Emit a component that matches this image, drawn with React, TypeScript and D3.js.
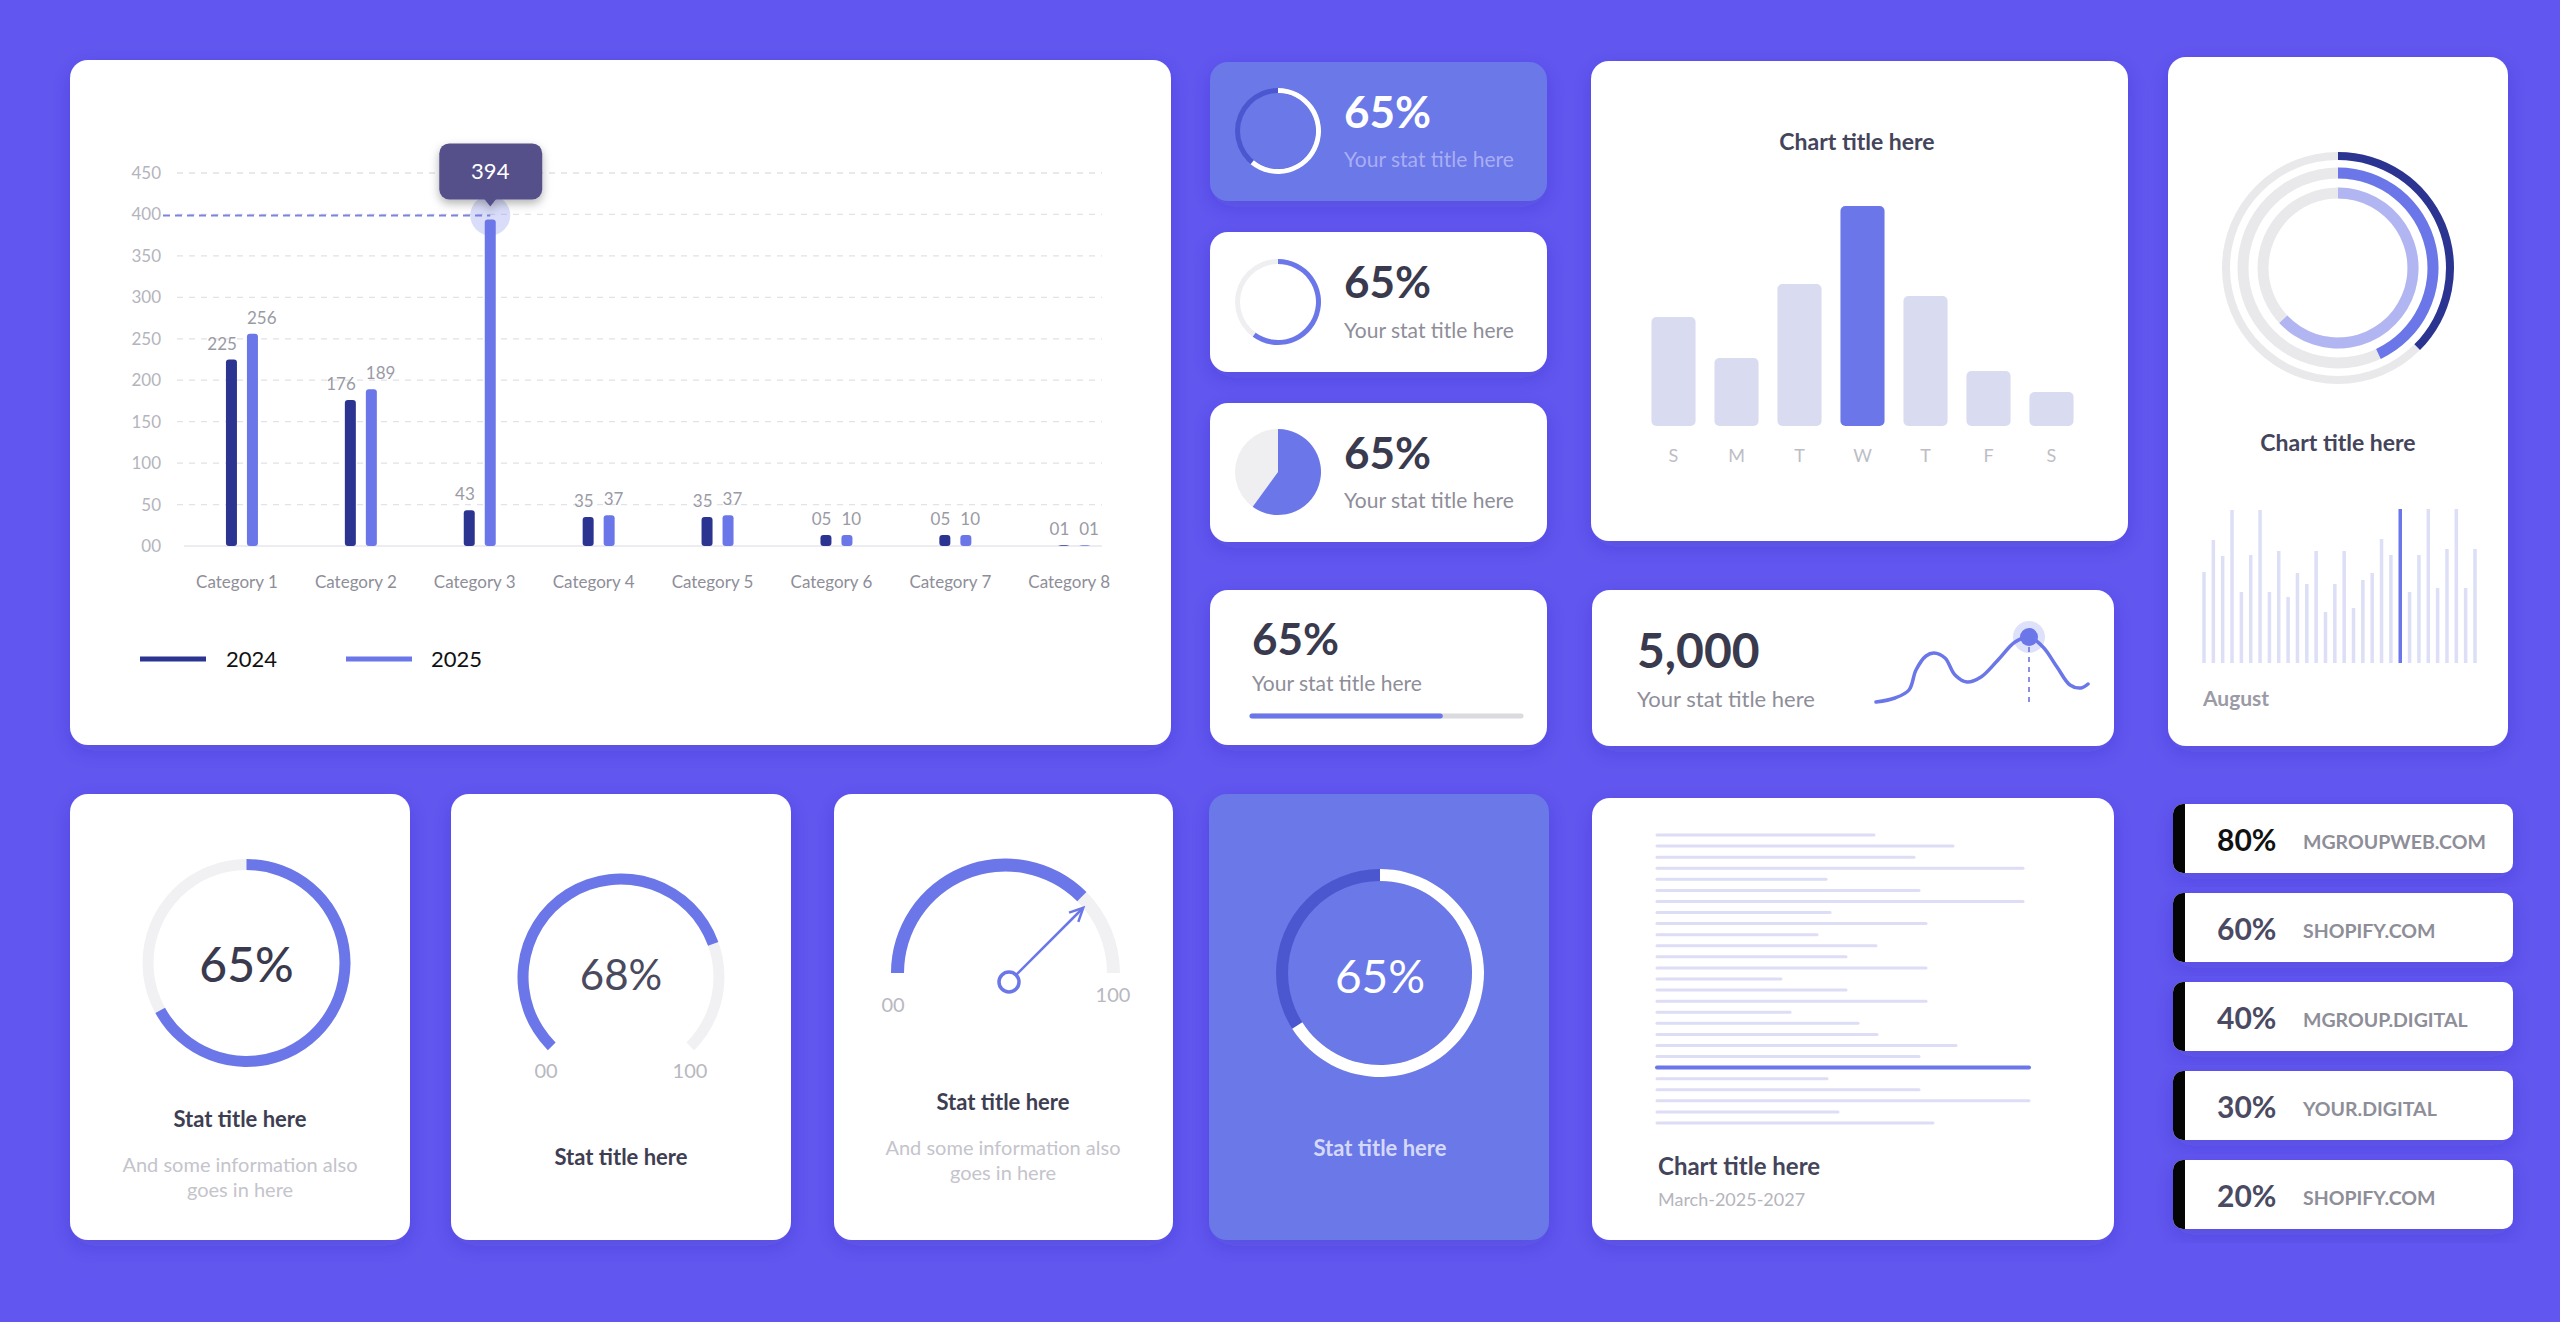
import React, { useEffect } from 'react'
import * as d3 from 'd3'

// colours
const BG = '#6156EF'
const SOFT = '#6A78E8'
const DARK = '#2B3491'
const BLUE = '#6B77E8'
const INK = '#3A3A4E'
const GREY = '#8E8E99'
const PALE = '#C4C4CB'
const TRACK = '#EFEFF2'
const FONT = 'Lato, "Open Sans", sans-serif'

// main grouped bar chart
const categories = ['Category 1', 'Category 2', 'Category 3', 'Category 4', 'Category 5', 'Category 6', 'Category 7', 'Category  8']
const series = ['2024', '2025']
const values2024 = [225, 176, 43, 35, 35, 5, 5, 1]
const values2025 = [256, 189, 394, 37, 37, 10, 10, 1]
const labels2024 = ['225', '176', '43', '35', '35', '05', '05', '01']
const labels2025 = ['256', '189', '394', '37', '37', '10', '10', '01']
const yTicks = [0, 50, 100, 150, 200, 250, 300, 350, 400, 450]
const yTickLabels = ['00', '50', '100', '150', '200', '250', '300', '350', '400', '450']
const highlightCat = 2

const statLabel = '65%'
const statRingA = 0.61
const statRingB = 0.6
const statPie = 0.6
const statProgress = 0.7

// weekday bars
const dayLabels = ['S', 'M', 'T', 'W', 'T', 'F', 'S']
const dayValues = [109, 68, 142, 220, 130, 55, 34]
const dayHighlight = 3

// concentric rings
const ringFractions = [0.375, 0.43, 0.63]

// august thin bars
const augustValues = [91, 123, 107, 153, 71, 108, 153, 71, 112, 66, 90, 79, 112, 51, 79, 112, 55, 83, 90, 124, 108, 154, 71, 108, 154, 75, 114, 154, 75, 114]
const augustHighlight = 21

// sparkline
const sparkX = [0, 19, 33, 40, 50, 58, 69, 79, 91, 105, 122, 139, 153, 167, 181, 194, 205, 212]
const sparkY = [0, 4, 12, 32, 46, 49, 44, 27, 20, 25, 42, 60, 65, 55, 35, 17, 14, 18]
const sparkPeak = 12

// bottom row
const ring1Fraction = 0.67
const gauge2Fraction = 0.76
const gauge3Fraction = 0.75
const ring4Fraction = 0.66

// text line chart
const lineLengths = [217, 296, 257, 366, 169, 262, 366, 173, 269, 160, 219, 189, 269, 124, 189, 269, 133, 201, 220, 299, 262, 372, 170, 262, 372, 181, 276]
const lineHighlight = 21

// domain list
const domainPcts = ['80%', '60%', '40%', '30%', '20%']
const domainNames = ['MGROUPWEB.COM', 'SHOPIFY.COM', 'MGROUP.DIGITAL', 'YOUR.DIGITAL', 'SHOPIFY.COM']

const TAU = Math.PI * 2
const arcGen = d3.arc()
const arcPath = (inner, outer, start, end) =>
    arcGen({ innerRadius: inner, outerRadius: outer, startAngle: start, endAngle: end })

const Card = ({ x, y, w, h, fill = '#fff', r = 18 }) => (
    <rect x={x} y={y} width={w} height={h} rx={r} fill={fill} filter="url(#cardShadow)" />
)

const MainBars = () => {
    const x = d3.scaleBand().domain(categories).range([182.5, 1133.7])
    const xs = d3.scalePoint().domain(series).range([-10.5, 10.5])
    const y = d3.scaleLinear().domain([0, 450]).range([546, 173])
    const bw = 11
    const cx = (c) => x(c) + x.bandwidth() / 2
    // tiny values still get a visible stub, like the design
    const top = (v) => (v >= 5 ? Math.min(y(v), y(0) - 11) : y(v))
    const hiX = cx(categories[highlightCat]) + xs('2025')
    const hiY = y(values2025[highlightCat])

    return (
        <g>
            <Card x={70} y={60} w={1101} h={685} />
            {yTicks.map((t, i) => (
                <g key={t}>
                    {t > 0 && <line x1={177} x2={1102} y1={y(t)} y2={y(t)} stroke="#E2E2E8" strokeWidth={1.3} strokeDasharray="6 6" />}
                    <text x={161} y={y(t) + 6} textAnchor="end" fontSize={17} fill="#B4B4BC">{yTickLabels[i]}</text>
                </g>
            ))}
            <line x1={184} x2={1102} y1={y(0)} y2={y(0)} stroke="#ECECF1" strokeWidth={2} />
            <line x1={163} x2={hiX} y1={hiY - 4} y2={hiY - 4} stroke="#7D84DD" strokeWidth={2} strokeDasharray="7 5" />
            <circle cx={hiX} cy={hiY - 4} r={20} fill={BLUE} opacity={0.25} />
            {categories.map((c, i) => {
                const v1 = values2024[i], v2 = values2025[i]
                const x1 = cx(c) + xs('2024') - bw / 2
                const x2 = cx(c) + xs('2025') - bw / 2
                return (
                    <g key={c}>
                        <rect x={x1} y={top(v1)} width={bw} height={y(0) - top(v1)} rx={3} fill={DARK} />
                        <rect x={x2} y={top(v2)} width={bw} height={y(0) - top(v2)} rx={3} fill={BLUE} />
                        {i !== highlightCat && <text x={x2} y={top(v2) - 10} fontSize={17} fill="#9A9AA5">{labels2025[i]}</text>}
                        <text x={x1 + bw} y={top(v1) - 10} textAnchor="end" fontSize={17} fill="#9A9AA5">{labels2024[i]}</text>
                        <text x={cx(c) - 5} y={588} textAnchor="middle" fontSize={17} fill={GREY}>{c}</text>
                    </g>
                )
            })}
            <g filter="url(#tipShadow)">
                <rect x={hiX - 51} y={hiY - 76} width={103} height={56} rx={10} fill="#55508A" />
                <path d={`M${hiX - 6},${hiY - 20.5}L${hiX + 6},${hiY - 20.5}L${hiX},${hiY - 13}Z`} fill="#55508A" />
            </g>
            <text x={hiX} y={hiY - 40} textAnchor="middle" fontSize={22} fill="#fff">{labels2025[highlightCat]}</text>
            {series.map((s, i) => (
                <g key={s}>
                    <line x1={140 + i * 206} x2={206 + i * 206} y1={659} y2={659} stroke={i === 0 ? DARK : BLUE} strokeWidth={5} />
                    <text x={226 + i * 205} y={667} fontSize={22} fill="#111">{s}</text>
                </g>
            ))}
        </g>
    )
}

const StatColumn = () => {
    const cx = 1278
    const tx = 1344
    return (
        <g>
            <Card x={1210} y={62} w={337} h={139} fill={SOFT} />
            <path transform={`translate(${cx},131)`} d={arcPath(38, 43, 0, TAU)} fill="#4B57CF" />
            <path transform={`translate(${cx},131)`} d={arcPath(38, 43, 0, TAU * statRingA)} fill="#fff" />
            <text x={tx} y={128} fontSize={44} fontWeight={700} fill="#fff">{statLabel}</text>
            <text x={tx} y={167} fontSize={21} fill="#A9AEF4">Your stat title here</text>

            <Card x={1210} y={232} w={337} h={140} />
            <path transform={`translate(${cx},302)`} d={arcPath(38, 43, 0, TAU)} fill={TRACK} />
            <path transform={`translate(${cx},302)`} d={arcPath(38, 43, 0, TAU * statRingB)} fill={BLUE} />
            <text x={tx} y={298} fontSize={44} fontWeight={700} fill={INK}>{statLabel}</text>
            <text x={tx} y={338} fontSize={21} fill={GREY}>Your stat title here</text>

            <Card x={1210} y={403} w={337} h={139} />
            <path transform={`translate(${cx},472)`} d={arcPath(0, 43, 0, TAU)} fill={TRACK} />
            <path transform={`translate(${cx},472)`} d={arcPath(0, 43, 0, TAU * statPie)} fill={BLUE} />
            <text x={tx} y={469} fontSize={44} fontWeight={700} fill={INK}>{statLabel}</text>
            <text x={tx} y={508} fontSize={21} fill={GREY}>Your stat title here</text>

            <Card x={1210} y={590} w={337} h={155} />
            <text x={1252} y={655} fontSize={44} fontWeight={700} fill={INK}>{statLabel}</text>
            <text x={1252} y={691} fontSize={21} fill={GREY}>Your stat title here</text>
            <line x1={1252} x2={1521} y1={716} y2={716} stroke="#DADADF" strokeWidth={5} strokeLinecap="round" />
            <line x1={1252} x2={1252 + 269 * statProgress} y1={716} y2={716} stroke={BLUE} strokeWidth={5} strokeLinecap="round" />
        </g>
    )
}

const WeekBars = () => {
    const x = d3.scaleBand().domain(d3.range(dayLabels.length)).range([1642, 2083]).paddingInner(0.3).paddingOuter(0.15)
    const y = d3.scaleLinear().domain([0, 220]).range([426, 206])
    return (
        <g>
            <Card x={1591} y={61} w={537} h={480} />
            <text x={1857} y={150} textAnchor="middle" fontSize={23} fontWeight={700} fill="#44445A">Chart title here</text>
            {dayValues.map((v, i) => (
                <g key={i}>
                    <rect x={x(i)} y={y(v)} width={x.bandwidth()} height={y(0) - y(v)} rx={5} fill={i === dayHighlight ? BLUE : '#D9DBF1'} />
                    <text x={x(i) + x.bandwidth() / 2} y={462} textAnchor="middle" fontSize={18} fill="#BDBDC5">{dayLabels[i]}</text>
                </g>
            ))}
        </g>
    )
}

const RingsCard = () => {
    const rings = [
        { r: 112, w: 8, color: DARK },
        { r: 95, w: 11, color: BLUE },
        { r: 75, w: 11, color: '#B1B5F2' },
    ]
    const x = d3.scalePoint().domain(d3.range(augustValues.length)).range([2204, 2475])
    const y = d3.scaleLinear().domain([0, 154]).range([663, 509])
    return (
        <g>
            <Card x={2168} y={57} w={340} h={689} />
            <g transform="translate(2338,268)">
                {rings.map((g, i) => (
                    <g key={i}>
                        <path d={arcPath(g.r - g.w / 2, g.r + g.w / 2, 0, TAU)} fill="#E9E9EC" />
                        <path d={arcPath(g.r - g.w / 2, g.r + g.w / 2, 0, TAU * ringFractions[i])} fill={g.color} />
                    </g>
                ))}
            </g>
            <text x={2338} y={451} textAnchor="middle" fontSize={23} fontWeight={700} fill="#44445A">Chart title here</text>
            {augustValues.map((v, i) => (
                <rect key={i} x={x(i) - 1.75} y={y(v)} width={3.5} height={y(0) - y(v)} fill={i === augustHighlight ? BLUE : '#DCDFF6'} />
            ))}
            <text x={2203} y={706} fontSize={21} fontWeight={700} fill="#9B9BA6">August</text>
        </g>
    )
}

const SparkCard = () => {
    const x = d3.scaleLinear().domain([0, 212]).range([1876, 2088])
    const y = d3.scaleLinear().domain([0, 65]).range([702, 637])
    const line = d3.line().x((d, i) => x(sparkX[i])).y((d) => y(d)).curve(d3.curveCatmullRom.alpha(0.5))
    const px = x(sparkX[sparkPeak]), py = y(sparkY[sparkPeak])
    return (
        <g>
            <Card x={1592} y={590} w={522} h={156} />
            <text x={1637} y={668} fontSize={48} fontWeight={700} fill={INK}>5,000</text>
            <text x={1637} y={707} fontSize={22} fill={GREY}>Your stat title here</text>
            <line x1={px} x2={px} y1={py} y2={y(0)} stroke="#8A90DD" strokeWidth={2} strokeDasharray="5 5" />
            <path d={line(sparkY)} fill="none" stroke={BLUE} strokeWidth={3.5} strokeLinecap="round" />
            <circle cx={px} cy={py} r={16} fill={BLUE} opacity={0.22} />
            <circle cx={px} cy={py} r={9} fill={BLUE} />
        </g>
    )
}

const BottomCards = () => {
    const g2Start = -0.75 * Math.PI, g2Span = 1.5 * Math.PI
    const g3Start = -0.5 * Math.PI, g3Span = Math.PI
    const needleAngle = g3Start + g3Span * gauge3Fraction
    const pivot = [1009, 982]
    const tip = [pivot[0] + 105 * Math.sin(needleAngle), pivot[1] - 105 * Math.cos(needleAngle)]
    const back = needleAngle + Math.PI
    const head = [back - 0.45, back + 0.45].map((a) => [tip[0] + 15 * Math.sin(a), tip[1] - 15 * Math.cos(a)])
    return (
        <g>
            {/* ring card */}
            <Card x={70} y={794} w={340} h={446} />
            <g transform="translate(246.5,963)">
                <path d={arcPath(93, 104, 0, TAU)} fill="#F1F1F4" />
                <path d={arcPath(93, 104, 0, TAU * ring1Fraction)} fill={BLUE} />
            </g>
            <text x={246.5} y={982} textAnchor="middle" fontSize={48} fontWeight={500} fill={INK}>65%</text>
            <text x={240} y={1127} textAnchor="middle" fontSize={22} fontWeight={700} fill="#3E3E52">Stat title here</text>
            <text x={240} y={1172} textAnchor="middle" fontSize={20} fill={PALE}>And some information also</text>
            <text x={240} y={1197} textAnchor="middle" fontSize={20} fill={PALE}>goes in here</text>

            {/* 270 degree gauge */}
            <Card x={451} y={794} w={340} h={446} />
            <g transform="translate(621,977)">
                <path d={arcPath(92.5, 103.5, g2Start, g2Start + g2Span)} fill="#F1F1F4" />
                <path d={arcPath(92.5, 103.5, g2Start, g2Start + g2Span * gauge2Fraction)} fill={BLUE} />
            </g>
            <text x={621} y={990} textAnchor="middle" fontSize={42} fill="#4A4A5E">68%</text>
            <text x={546} y={1078} textAnchor="middle" fontSize={20} fill="#B8B8C0">00</text>
            <text x={690} y={1078} textAnchor="middle" fontSize={20} fill="#B8B8C0">100</text>
            <text x={621} y={1165} textAnchor="middle" fontSize={22} fontWeight={700} fill="#3E3E52">Stat title here</text>

            {/* speedometer */}
            <Card x={834} y={794} w={339} h={446} />
            <g transform="translate(1005.5,973)">
                <path d={arcPath(101.5, 114.5, g3Start, g3Start + g3Span)} fill="#F1F1F4" />
                <path d={arcPath(101.5, 114.5, g3Start, g3Start + g3Span * gauge3Fraction)} fill={BLUE} />
            </g>
            <line x1={pivot[0]} y1={pivot[1]} x2={tip[0]} y2={tip[1]} stroke={BLUE} strokeWidth={2.5} />
            <polyline points={`${head[0][0]},${head[0][1]} ${tip[0]},${tip[1]} ${head[1][0]},${head[1][1]}`} fill="none" stroke={BLUE} strokeWidth={2.5} />
            <circle cx={pivot[0]} cy={pivot[1]} r={10} fill="#fff" stroke={BLUE} strokeWidth={3.5} />
            <text x={893} y={1012} textAnchor="middle" fontSize={20} fill="#B8B8C0">00</text>
            <text x={1113} y={1002} textAnchor="middle" fontSize={20} fill="#B8B8C0">100</text>
            <text x={1003} y={1110} textAnchor="middle" fontSize={22} fontWeight={700} fill="#3E3E52">Stat title here</text>
            <text x={1003} y={1155} textAnchor="middle" fontSize={20} fill={PALE}>And some information also</text>
            <text x={1003} y={1180} textAnchor="middle" fontSize={20} fill={PALE}>goes in here</text>

            {/* blue ring card */}
            <Card x={1209} y={794} w={340} h={446} fill={SOFT} />
            <g transform="translate(1380,973)">
                <path d={arcPath(92, 104, 0, TAU)} fill="#4B57CF" />
                <path d={arcPath(92, 104, 0, TAU * ring4Fraction)} fill="#fff" />
            </g>
            <text x={1380} y={993} textAnchor="middle" fontSize={46} fill="#fff">65%</text>
            <text x={1380} y={1156} textAnchor="middle" fontSize={22} fontWeight={700} fill="#D5D9F8">Stat title here</text>
        </g>
    )
}

const LinesCard = () => {
    const x = d3.scaleLinear().domain([0, 372]).range([1657, 2029])
    const y = d3.scalePoint().domain(d3.range(lineLengths.length)).range([835, 1123])
    return (
        <g>
            <Card x={1592} y={798} w={522} h={442} />
            {lineLengths.map((v, i) => (
                <line key={i} x1={x(0)} x2={x(v)} y1={y(i)} y2={y(i)}
                    stroke={i === lineHighlight ? BLUE : '#DDDDF5'} strokeWidth={i === lineHighlight ? 4 : 3} strokeLinecap="round" />
            ))}
            <text x={1658} y={1175} fontSize={24} fontWeight={700} fill="#44445A">Chart title here</text>
            <text x={1658} y={1206} fontSize={18} fill="#B5B5BD">March-2025-2027</text>
        </g>
    )
}

const DomainList = () => {
    const y = d3.scaleBand().domain(d3.range(domainPcts.length)).range([804, 1229]).paddingInner(0.225)
    const x = 2173, w = 340, r = 10
    return (
        <g>
            {domainPcts.map((p, i) => {
                const top = y(i), h = y.bandwidth()
                const strip = `M${x + r},${top}H${x + 12}V${top + h}H${x + r}A${r},${r} 0 0 1 ${x},${top + h - r}V${top + r}A${r},${r} 0 0 1 ${x + r},${top}Z`
                return (
                    <g key={i}>
                        <rect x={x} y={top} width={w} height={h} rx={r} fill="#fff" filter="url(#cardShadow)" />
                        <path d={strip} fill="#050505" />
                        <text x={2217} y={top + 47} fontSize={30} fontWeight={700} fill={i === 0 ? '#111' : '#4A4A62'}>{p}</text>
                        <text x={2303} y={top + 45} fontSize={19.5} fontWeight={700} fill="#8E8E98">{domainNames[i]}</text>
                    </g>
                )
            })}
        </g>
    )
}

const App = () => {
    useEffect(() => {
        document.body.style.margin = '0'
        document.body.style.overflow = 'hidden'
    }, [])

    return (
        <svg width={2560} height={1322} fontFamily={FONT}
            style={{ display: 'block', position: 'absolute', left: 0, top: 0 }}>
            <defs>
                <filter id="cardShadow" x="-10%" y="-10%" width="120%" height="130%">
                    <feDropShadow dx="0" dy="6" stdDeviation="10" floodColor="#2A1E9A" floodOpacity="0.18" />
                </filter>
                <filter id="tipShadow" x="-30%" y="-30%" width="160%" height="180%">
                    <feDropShadow dx="0" dy="4" stdDeviation="5" floodColor="#000" floodOpacity="0.3" />
                </filter>
            </defs>
            <rect width={2560} height={1322} fill={BG} />
            <MainBars />
            <StatColumn />
            <WeekBars />
            <RingsCard />
            <SparkCard />
            <BottomCards />
            <LinesCard />
            <DomainList />
        </svg>
    )
}

export default App
